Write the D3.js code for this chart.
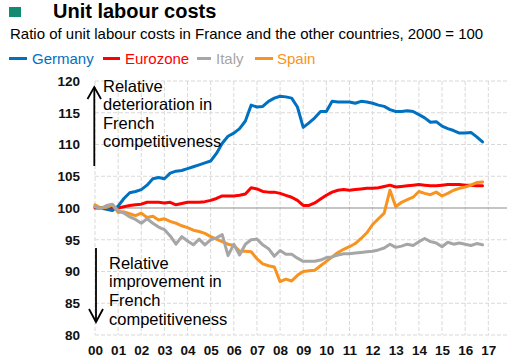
<!DOCTYPE html>
<html>
<head>
<meta charset="utf-8">
<script src="https://cdn.jsdelivr.net/npm/d3@7"></script>
<style>
  html, body { margin: 0; padding: 0; background: #fff; }
  svg { display: block; font-family: "Liberation Sans", Arial, sans-serif; }
</style>
</head>
<body>
<svg id="chart" width="528" height="360"></svg>
<script>
// ---- Data (quarterly, 2000Q1 .. 2016Q4) ----
const yearLabels = ["00","01","02","03","04","05","06","07","08","09","10","11","12","13","14","15","16","17"];
const yTicks = [80, 85, 90, 95, 100, 105, 110, 115, 120];

const germany = [
  100.2, 100.0, 99.8, 99.6, 100.3, 101.5, 102.4, 102.6,
  102.9, 103.6, 104.6, 104.8, 104.6, 105.5, 105.8, 105.9,
  106.2, 106.5, 106.8, 107.1, 107.4, 108.6, 110.2, 111.3,
  111.8, 112.5, 113.7, 116.2, 115.9, 116.0, 116.8, 117.3,
  117.6, 117.5, 117.3, 115.9, 112.7, 113.4, 114.2, 115.2,
  115.2, 116.8, 116.7, 116.7, 116.7, 116.5, 116.8, 116.7,
  116.5, 116.2, 116.0, 115.5, 115.2, 115.2, 115.3, 115.2,
  114.7, 114.2, 113.5, 113.6, 112.9, 112.5, 112.2, 111.8,
  111.8, 111.9, 111.2, 110.4
];
const eurozone = [
  100.0, 100.0, 100.0, 100.0, 100.0, 100.2, 100.4, 100.5,
  100.6, 100.9, 100.9, 100.9, 100.8, 100.9, 100.5, 100.7,
  100.9, 100.9, 100.9, 101.0, 101.2, 101.5, 101.9, 101.9,
  101.9, 102.0, 102.2, 103.2, 103.0, 102.6, 102.5, 102.5,
  102.3, 102.0, 101.7, 101.2, 100.4, 100.4, 100.8, 101.4,
  102.0, 102.5, 102.8, 102.9, 102.8, 102.9, 103.0, 103.1,
  103.1, 103.2, 103.4, 103.6, 103.3, 103.4, 103.5, 103.6,
  103.7, 103.6, 103.5, 103.5, 103.6, 103.7, 103.7, 103.7,
  103.6, 103.6, 103.5, 103.5
];
const italy = [
  100.2, 99.9, 100.4, 100.6, 99.6, 99.2, 98.6, 98.2,
  97.6, 98.3, 97.6, 97.0, 96.6, 95.6, 94.3, 95.5,
  94.8, 94.2, 95.1, 94.2, 95.0, 95.3, 95.8, 92.5,
  94.3, 92.6, 94.3, 95.0, 95.1, 94.2, 93.6, 92.4,
  93.3, 92.7, 92.7, 92.1, 91.6, 91.6, 91.6, 91.8,
  92.2, 92.3, 92.6, 92.8, 92.8, 92.9, 93.0, 93.1,
  93.2, 93.4, 93.7, 94.3, 93.8, 94.0, 94.3, 94.1,
  94.7, 95.2, 94.7, 94.5, 93.9, 94.6, 94.3, 94.5,
  94.3, 94.1, 94.4, 94.2
];
const spain = [
  100.5, 100.0, 100.1, 100.5, 99.3, 99.4, 99.1, 98.8,
  99.2, 98.5, 98.7, 98.1, 98.3, 97.9, 97.6, 97.2,
  96.9, 96.5, 96.3, 96.0, 95.5, 95.1, 94.7, 94.3,
  94.1, 93.2, 93.2, 93.1, 92.0, 91.2, 90.9, 90.7,
  88.4, 88.8, 88.5, 89.4, 90.0, 90.1, 90.2, 90.9,
  91.6, 92.3, 93.0, 93.5, 93.9, 94.4, 95.2, 96.1,
  97.4, 98.3, 99.2, 102.8, 100.2, 100.9, 101.3, 101.7,
  102.6, 102.3, 102.1, 102.5, 101.9, 102.3, 102.8, 103.1,
  103.3, 103.6, 104.0, 104.1
];

const seriesNames = ["Germany", "Eurozone", "Italy", "Spain"];
const seriesColors = ["#0070C0", "#FF0000", "#A6A6A6", "#F7931E"];
const seriesData = [germany, eurozone, italy, spain];

// ---- Layout ----
const svg = d3.select("#chart");
const x = d3.scaleLinear().domain([0, 17]).range([95, 488.3]);   // years since 2000
const y = d3.scaleLinear().domain([80, 120]).range([335, 81]);
const plotRight = 507;

// Header
svg.append("rect").attr("x", 9).attr("y", 7).attr("width", 12).attr("height", 10).attr("fill", "#138A72");
svg.append("text").attr("x", 53).attr("y", 18).attr("font-size", 20).attr("font-weight", "bold")
  .attr("fill", "#000").text("Unit labour costs");
svg.append("text").attr("x", 10).attr("y", 39).attr("font-size", 15).attr("fill", "#000")
  .text("Ratio of unit labour costs in France and the other countries, 2000 = 100");

// Legend
const legendPos = [
  {lx: 9, len: 18, tx: 32}, {lx: 103, len: 17, tx: 125},
  {lx: 197, len: 14, tx: 216}, {lx: 255, len: 18, tx: 277}
];
seriesNames.forEach((n, i) => {
  svg.append("line").attr("x1", legendPos[i].lx).attr("x2", legendPos[i].lx + legendPos[i].len)
    .attr("y1", 58.5).attr("y2", 58.5).attr("stroke", seriesColors[i]).attr("stroke-width", 3);
  svg.append("text").attr("x", legendPos[i].tx).attr("y", 64).attr("font-size", 15)
    .attr("fill", seriesColors[i]).text(n);
});

// Gridlines
const grid = svg.append("g");
yTicks.filter(v => v !== 100).forEach(v => {
  grid.append("line").attr("x1", 95).attr("x2", plotRight).attr("y1", y(v)).attr("y2", y(v))
    .attr("stroke", "#D9D9D9").attr("stroke-width", 1).attr("stroke-dasharray", "4,2");
});
yearLabels.forEach((lab, i) => {
  grid.append("line").attr("x1", x(i)).attr("x2", x(i)).attr("y1", y(120)).attr("y2", y(80))
    .attr("stroke", "#D9D9D9").attr("stroke-width", 1).attr("stroke-dasharray", "4,2");
});
// Base line at 100
svg.append("line").attr("x1", 95).attr("x2", plotRight).attr("y1", y(100)).attr("y2", y(100))
  .attr("stroke", "#8C8C8C").attr("stroke-width", 1.2);

// Y axis labels
const yAxis = d3.axisLeft(y).tickValues(yTicks).tickSize(0).tickPadding(0);
const gy = svg.append("g").attr("transform", "translate(80,0)").call(yAxis);
gy.select(".domain").remove();
gy.selectAll("text").attr("font-size", 13.5).attr("font-weight", "bold").attr("fill", "#111")
  .attr("font-family", "Liberation Sans, Arial, sans-serif");

// X axis labels
const xAxis = d3.axisBottom(x).tickValues(d3.range(yearLabels.length)).tickFormat(i => yearLabels[i])
  .tickSize(0).tickPadding(0);
const gx = svg.append("g").attr("transform", "translate(0,345)").call(xAxis);
gx.select(".domain").remove();
gx.selectAll("text").attr("font-size", 13.5).attr("font-weight", "bold").attr("fill", "#111")
  .attr("font-family", "Liberation Sans, Arial, sans-serif");

// Series lines
const line = d3.line().x((d, i) => x(i / 4)).y(d => y(d));
const drawOrder = [1, 0, 3, 2];
drawOrder.forEach(k => {
  svg.append("path").datum(seriesData[k]).attr("d", line).attr("fill", "none")
    .attr("stroke", seriesColors[k]).attr("stroke-width", 3)
    .attr("stroke-linejoin", "round").attr("stroke-linecap", "round");
});

// Annotations
const ann = svg.append("g").attr("stroke", "#000").attr("stroke-width", 1.8).attr("fill", "none");
ann.append("line").attr("x1", 94.3).attr("x2", 94.3).attr("y1", 166).attr("y2", 87);
ann.append("polyline").attr("points", "87.5,99 94.3,87 101,99");
ann.append("line").attr("x1", 96).attr("x2", 96).attr("y1", 248).attr("y2", 322);
ann.append("polyline").attr("points", "89,309 96,322 103,309");

const upText = ["Relative", "deterioration in", "French", "competitiveness"];
const downText = ["Relative", "improvement in", "French", "competitiveness"];
upText.forEach((t, i) => {
  svg.append("text").attr("x", 103).attr("y", 92 + i * 18.4).attr("font-size", 16.5)
    .attr("fill", "#000").text(t);
});
downText.forEach((t, i) => {
  svg.append("text").attr("x", 109).attr("y", 268.5 + i * 18.8).attr("font-size", 16.5)
    .attr("fill", "#000").text(t);
});
</script>
</body>
</html>
